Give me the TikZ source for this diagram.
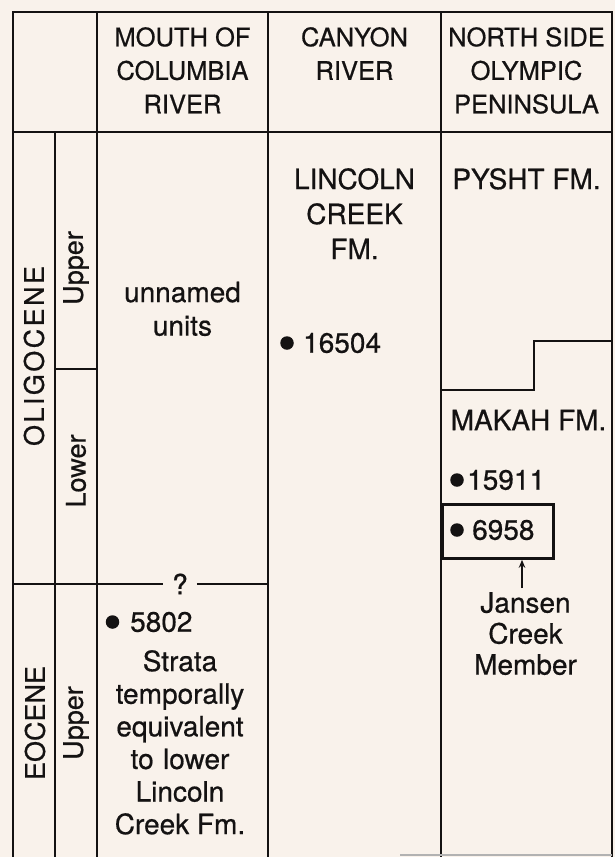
\documentclass[tikz,border=0pt]{standalone}
\usepackage{fontspec}
\setmainfont{TeX Gyre Heros}[FakeBold=0.6]
\usetikzlibrary{arrows.meta}
\definecolor{bgc}{RGB}{249,242,235}
\definecolor{ink}{RGB}{20,18,18}
\begin{document}
\begin{tikzpicture}[x=1pt,y=-1pt,
  rule/.style={line width=2.8pt, draw=ink, line join=miter},
  hdr/.style={font=\fontsize{25.5}{33.5}\selectfont, align=center, inner sep=0pt, text=ink, anchor=north},
  body/.style={font=\fontsize{28}{33.5}\selectfont, align=center, inner sep=0pt, text=ink},
  num/.style={font=\fontsize{28}{33.5}\selectfont, inner sep=0pt, anchor=west, text=ink},
  dotm/.style={circle, fill=ink, inner sep=0pt, minimum size=13.5pt},
  vert/.style={font=\fontsize{27}{30}\selectfont, rotate=90, inner sep=0pt, text=ink},
  ptr/.style={draw=ink, line width=1.8pt, -{Stealth[length=8pt,width=6.5pt]}}]
\fill[bgc] (0,0) rectangle (615,857);
\useasboundingbox (0,0) rectangle (615,857);

% table rules
\draw[rule] (13,857) -- (13,12) -- (612,12) -- (612,857);
\draw[rule] (13,132) -- (612,132);
\draw[rule] (55,132) -- (55,857);
\draw[rule] (97,12) -- (97,857);
\draw[rule] (268,12) -- (268,857);
\draw[rule] (441,12) -- (441,857);
\draw[rule] (55,369) -- (97,369);
\draw[rule] (441,390) -- (534,390) -- (534,341) -- (612,341);
\draw[gray!60, line width=1.2pt] (400,855) -- (612,855);

% headers
\node[hdr] (h1) at (182.5,27) {MOUTH OF\\COLUMBIA\\RIVER};
\node[hdr] (h2) at (354.5,27) {CANYON\\RIVER};
\node[hdr] (h3) at (526.5,27) {NORTH SIDE\\OLYMPIC\\PENINSULA};

% epochs
\node[vert] (olig) at (34,356) {\addfontfeature{LetterSpace=9}OLIGOCENE};
\node[vert] (oup) at (76,268) {Upper};
\node[vert] (olow) at (76,471) {Lower};
\node[vert] (eoc) at (35,723) {EOCENE};
\node[vert] (eup) at (76,723) {Upper};

% Columbia column
\node[body, anchor=north] (unn) at (182.5,281.5) {unnamed\\units};
\node[body, inner sep=9pt] (q) at (180,584) {?};
\draw[rule] (13,584) -- (q.west);
\draw[rule] (q.east) -- (268,584);
\node[dotm] (d5802) at (112.5,622) {};
\node[num] (n5802) at (130,622) {5802};
\node[body, anchor=north, font=\fontsize{28}{32.6}\selectfont] (strata) at (180,650)
  {Strata\\temporally\\equivalent\\to\,\,lower\\Lincoln\\Creek Fm.};

% Canyon column
\node[body, anchor=north, font=\fontsize{28}{35}\selectfont] (linc) at (354.5,168) {LINCOLN\\CREEK\\FM.};
\node[dotm] (d16504) at (287,343) {};
\node[num] (n16504) at (303,343) {16504};

% Olympic column
\node[body, anchor=north] (pysht) at (526.5,168) {PYSHT FM.};
\node[body] (makah) at (528.5,420) {MAKAH FM.};
\node[dotm] (d15911) at (457,480) {};
\node[num] (n15911) at (467,480) {15911};
\node[draw=ink, line width=2.8pt, minimum width=111pt, minimum height=54pt, inner sep=0pt, anchor=north west] (box) at (441,503) {};
\node[dotm] (d6958) at (457,530) {};
\node[num] (n6958) at (472,530) {6958};
\node[body, anchor=north, font=\fontsize{28}{31}\selectfont] (jansen) at (525.5,592) {Jansen\\Creek\\Member};
\draw[ptr, shorten <=4pt] ([xshift=-3.5pt]jansen.north) -- ([xshift=-3.5pt]jansen.north |- box.south);
\end{tikzpicture}
\end{document}
